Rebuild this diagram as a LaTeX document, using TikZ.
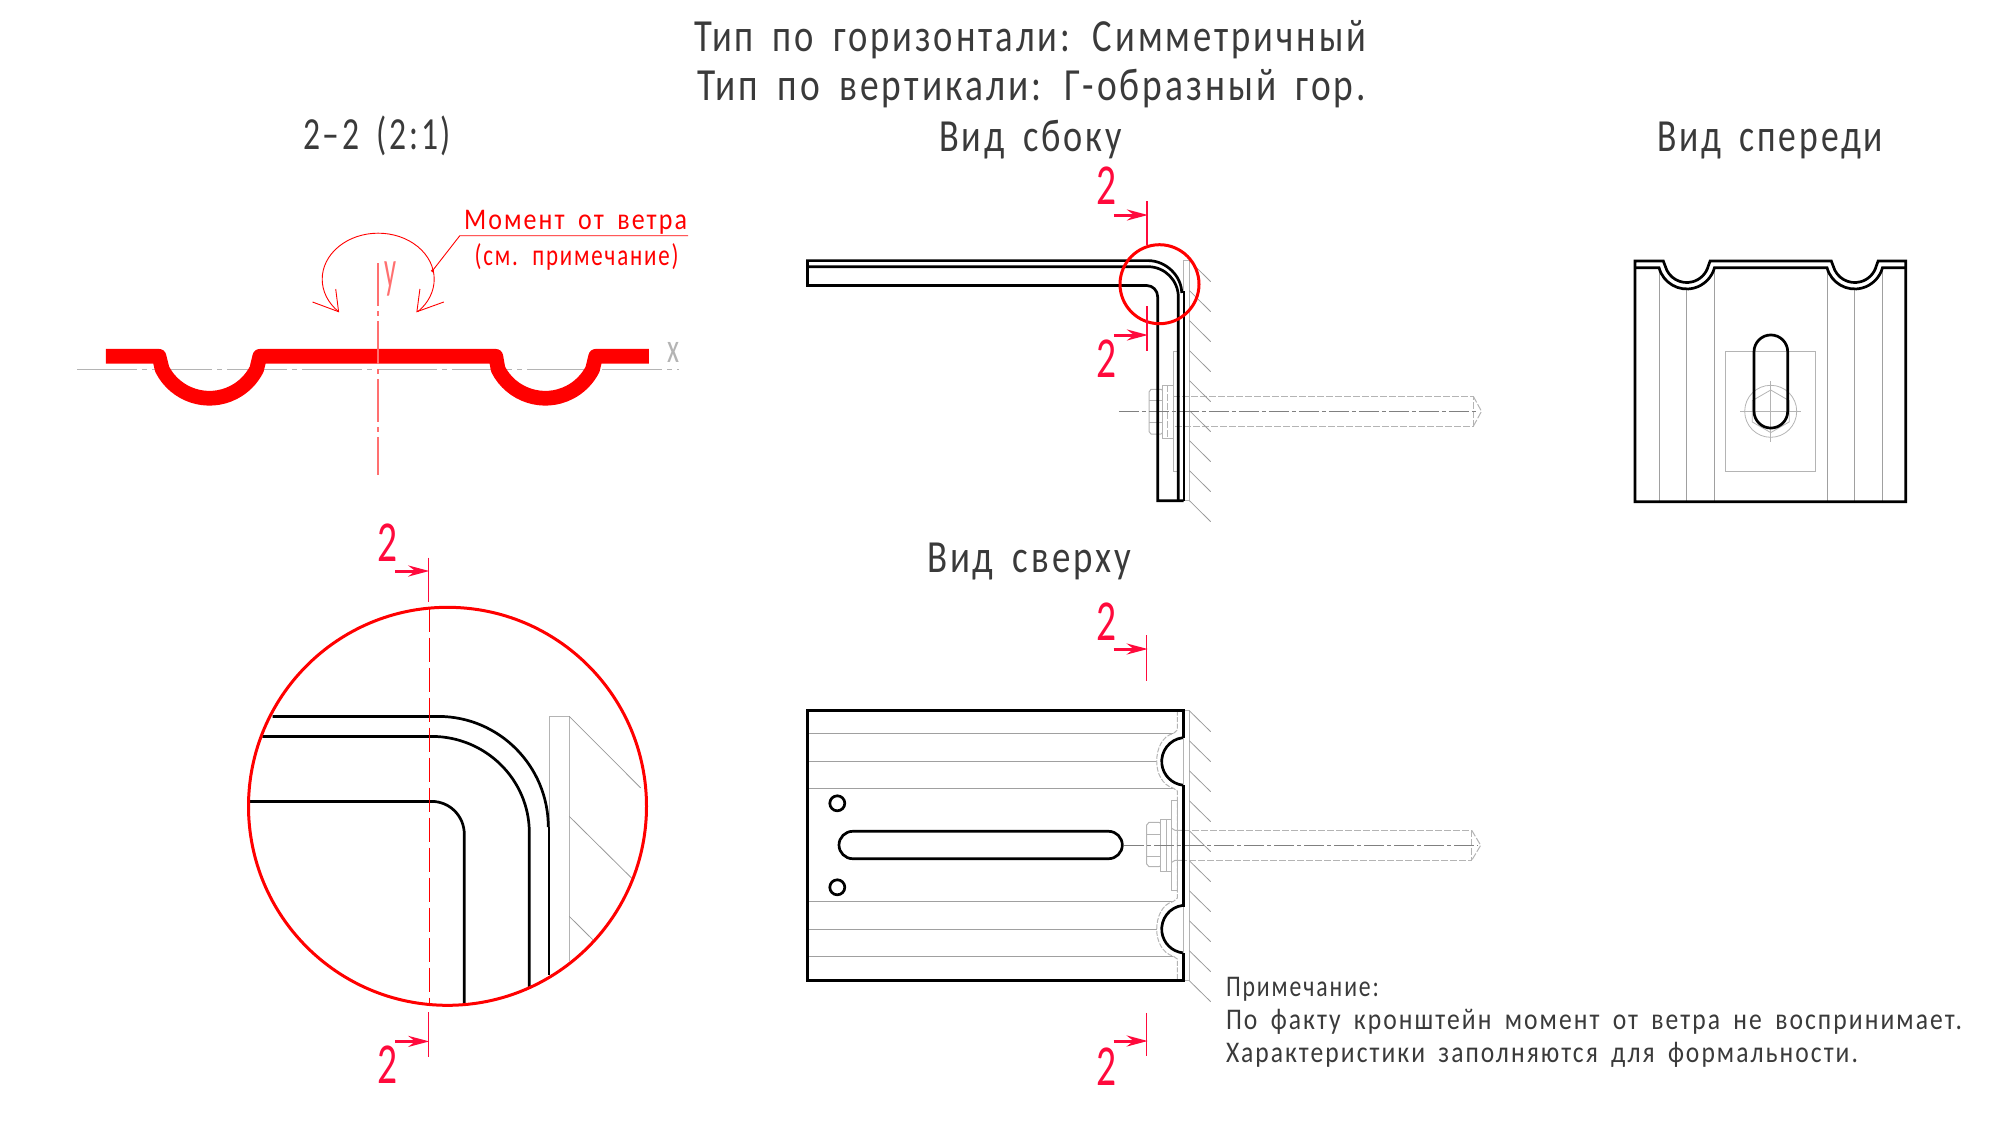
\documentclass[tikz,border=0pt]{standalone}
\usepackage{fontspec}
\usepackage{graphicx}
\usetikzlibrary{arrows.meta}
\setmainfont[LetterSpace=8,WordSpace=1.7]{Carlito}
\definecolor{ink}{HTML}{3A3A3A}
\definecolor{lgrey}{HTML}{B4B4B4}
\definecolor{mgrey}{HTML}{A0A0A0}
\definecolor{hgrey}{HTML}{9A9A9A}
\definecolor{axgrey}{HTML}{808080}
\definecolor{crim}{HTML}{FF0A3C}
\definecolor{ax}{HTML}{FF7070}
\tikzset{
  txt/.style={anchor=base west,inner sep=0pt,outer sep=0pt},
  bigt/.style={txt,text=ink,font=\fontsize{46}{50}\selectfont},
  note/.style={txt,text=ink,font=\fontsize{30}{34}\selectfont},
  rednote/.style={txt,text=red,font=\fontsize{30}{34}\selectfont},
  num/.style={txt,text=crim,font=\fontsize{58}{60}\selectfont},
  blk/.style={draw=black,line width=2.7pt,line join=miter},
  thinblk/.style={draw=black,line width=1.8pt},
  gr/.style={draw=lgrey,line width=1pt},
  grd/.style={draw=lgrey,line width=1pt,dash pattern=on 7pt off 2pt},
  rib/.style={draw=mgrey,line width=1pt},
  hatchline/.style={draw=hgrey,line width=.8pt},
  axline/.style={draw=axgrey,line width=1pt,dash pattern=on 20pt off 3pt on 4pt off 3pt},
  secline/.style={draw=crim,line width=1.2pt},
  secarrow/.style={draw=crim,line width=3pt,-{Stealth[length=21pt,width=11pt,inset=7pt]}},
  redring/.style={draw=red,line width=3pt},
  moment/.style={draw=red,line width=.9pt},
}
\newcommand\secmark[6]{%
  \draw[secline] (#2,#3) -- (#2,#4);
  \draw[secarrow] (#2-33,#5) -- (#2+1,#5);
  \node[num] (#1) at (#2-50.5,#6) {\resizebox{20pt}{\height}{2}};
}
\newcommand\fit[2]{\resizebox{#1pt}{\height}{#2}}
\begin{document}
\begin{tikzpicture}[x=1pt,y=-1pt]
\useasboundingbox (0,0) rectangle (2000,1125);
% ---------- titles
\node[bigt] (t1) at (694,51) {\fit{672}{Тип по горизонтали: Симметричный}};
\node[bigt] (t2) at (697,100.8) {\fit{669}{Тип по вертикали: Г-образный гор.}};
\node[bigt] (t3) at (303,149.3) {\fit{148}{2–2 (2:1)}};
\node[bigt] (t4) at (939,151.8) {\fit{183}{Вид сбоку}};
\node[bigt] (t5) at (1657,151.8) {\fit{226}{Вид спереди}};
\node[bigt] (t6) at (927,572.7) {\fit{204}{Вид сверху}};
% ---------- note
\node[note] (n1) at (1226,996) {\fit{153}{Примечание:}};
\node[note] (n2) at (1226,1029) {\fit{736}{По факту кронштейн момент от ветра не воспринимает.}};
\node[note] (n3) at (1226,1062.5) {\fit{632}{Характеристики заполняются для формальности.}};
% ---------- section 2-2
\draw[draw=lgrey,line width=1.4pt,dash pattern=on 60pt off 5pt on 5pt off 5pt] (77,369.3) -- (678.7,369.3);
\draw[draw=red,line width=14.7pt,line join=round]
  (105.9,356.3) -- (159,356.3) -- (162.2,369.3) arc[start angle=153,end angle=27,radius=53]
  -- (259.8,356.3) -- (495.8,356.3) -- (498.1,369.3) arc[start angle=153,end angle=27,radius=53]
  -- (595.7,356.3) -- (648.8,356.3);
\draw[draw=ax,line width=2.6pt,dash pattern=on 43pt off 5pt on 5pt off 5pt] (377.8,263.3) -- (377.8,475);
\node[txt,text=ax,font=\fontsize{54}{56}\selectfont] (ly) at (384,287) {\fit{12}{y}};
\node[txt,text=lgrey,font=\fontsize{42}{44}\selectfont] (lx) at (667,362) {\fit{12}{x}};
\draw[moment] (338.6,311.7) arc[start angle=135,end angle=405,x radius=56,y radius=46];
\coordinate (tipl) at (338.6,311.7);
\coordinate (tipr) at (416.9,311.7);
\draw[moment] (335.7,289) -- (tipl) -- (312.5,302);
\draw[moment] (419.9,289) -- (tipr) -- (443.8,302);
\coordinate (dot) at (432.5,270.7);
\fill[red] (dot) circle (1.6);
\draw[moment] (dot) -- (459.8,235.7) -- (688,235.7);
\node[rednote] (m1) at (464,229.3) {\fit{223}{Момент от ветра}};
\node[rednote] (m2) at (474.6,265) {\fit{204}{(см. примечание)}};
% ---------- side view
\draw[gr] (1183.6,260.4) rectangle (1189.5,500.7);
\draw[gr] (1173.4,351.3) rectangle (1177.8,471.7);
\draw[gr] (1162,385) rectangle (1173.4,438.3);
\draw[grd] (1167.7,385) -- (1167.7,438.3);
\draw[gr] (1162,390) -- (1161,389.3) -- (1151,389.3) -- (1149,392) -- (1149,431.5) -- (1151,434) -- (1161,434) -- (1162,433);
\draw[gr] (1149,400.7) -- (1162,400.7) (1149,422.2) -- (1162,422.2);
\draw[grd] (1173.4,396.3) -- (1473.3,396.3) -- (1473.3,426.3) -- (1173.4,426.3);
\draw[grd] (1473.3,396.3) -- (1481.5,411.3) -- (1473.3,426.3);
\foreach \e in {281.7,311.7,341.7,371.7,401.7,431.7,461.7,491.7,521.7}
  \draw[hatchline] (1189.5,\e-21) -- (1210.7,\e);
\draw[axline] (1118.8,411.3) -- (1478,411.3);
\draw[blk] (1148,260.6) -- (807.5,260.6) -- (807.5,285.5) -- (1146.7,285.5)
  .. controls (1152.8,285.5) and (1157.7,290.5) .. (1157.7,297) -- (1157.7,500.7) -- (1183.5,500.7);
\draw[blk] (1148,260.6) .. controls (1166,260.6) and (1181.7,276) .. (1181.7,293);
\draw[blk] (807.5,266.7) -- (1148,266.7) .. controls (1165,266.7) and (1178.3,280.5) .. (1178.3,297) -- (1178.3,500.7);
\draw[thinblk] (1183.7,291) -- (1183.7,500.7);
\draw[redring] (1159.5,284.2) circle (39.5);
\secmark{s1}{1146.9}{201}{245}{215}{204.3}
\secmark{s2}{1146.9}{306}{350.7}{335}{377.3}
% ---------- front view
\foreach \x in {1659.3,1714.3,1827.7,1882.3} \draw[rib] (\x,267.7) -- (\x,501.7);
\foreach \x in {1686.3,1854.3} \draw[rib] (\x,288.7) -- (\x,501.7);
\draw[gr] (1725.3,351.3) rectangle (1815.7,471.3);
\coordinate (fb) at (1770.7,411.3);
\draw[gr,line width=.8pt] (fb) circle (26);
\draw[gr,line width=.8pt] (fb) +(90:21.3) -- +(150:21.3) -- +(210:21.3) -- +(270:21.3) -- +(330:21.3) -- +(30:21.3) -- cycle;
\draw[gr,line width=.8pt] (1740,411.3) -- (1801,411.3) (1770.7,381) -- (1770.7,441.7);
\draw[blk] (1635,261) -- (1663.3,261) -- (1665.2,266) arc[start angle=165,end angle=15,radius=22.3]
  -- (1710.1,261) -- (1831.3,261) -- (1833.2,266) arc[start angle=165,end angle=15,radius=22.3]
  -- (1878.1,261) -- (1905.7,261) -- (1905.7,501.7) -- (1635,501.7) -- cycle;
\draw[blk] (1635,267.7) -- (1659,267.7) arc[start angle=165,end angle=15,radius=28.7]
  -- (1827,267.7) arc[start angle=165,end angle=15,radius=28.7] -- (1905.7,267.7);
\draw[blk] (1754,351.8) arc[start angle=180,end angle=360,radius=16.85] -- (1787.7,411.2)
  arc[start angle=0,end angle=180,radius=16.85] -- cycle;
% ---------- top view
\foreach \y/\x in {733.3/1173,761.3/1156.7,788.3/1173,901.3/1173,929.3/1156.7,956.3/1173}
  \draw[rib] (807.3,\y) -- (\x,\y);
\draw[gr] (1183.3,710.7) rectangle (1189.3,980.3);
\draw[gr] (1171.5,800) rectangle (1177.7,890.7);
\draw[gr] (1160,819.3) rectangle (1171.3,871.3);
\draw[gr] (1160,823) -- (1159,822.3) -- (1149,822.3) -- (1146.7,825) -- (1146.7,864) -- (1149,866.7) -- (1159,866.7) -- (1160,866);
\draw[gr] (1146.7,834.3) -- (1160,834.3) (1146.7,856) -- (1160,856);
\draw[gr] (1166,819.3) -- (1166,871.3);
\draw[gr] (1171.7,828.3) -- (1175,830.3) -- (1183.3,830.3) (1171.7,862.3) -- (1175,860.3) -- (1183.3,860.3);
\draw[grd] (1183.3,830.3) -- (1471.7,830.3) -- (1471.7,860.3) -- (1183.3,860.3);
\draw[grd] (1471.7,830.3) -- (1480.7,845.3) -- (1471.7,860.3);
\draw[grd,dash pattern=on 5pt off 1.5pt] (1177.3,710.7) -- (1177.3,730) -- (1173.5,733.4)
  .. controls (1162,736) and (1156.7,749) .. (1156.7,761.3)
  .. controls (1156.7,773) and (1162,785) .. (1173.5,788.3) -- (1177.3,791) -- (1177.3,898)
  -- (1173.5,901.4) .. controls (1162,904) and (1156.7,917) .. (1156.7,929.3)
  .. controls (1156.7,941) and (1162,953) .. (1173.5,956.3) -- (1177.3,959) -- (1177.3,980.3);
\foreach \e in {731.7,761.7,791.7,821.7,851.7,881.7,911.7,941.7,971.7,1001.7}
  \draw[hatchline] (1189.3,\e-21) -- (1210.7,\e);
\draw[axline] (1124.3,845.3) -- (1478,845.3);
\draw[blk] (1183.3,737.7) -- (1183.3,710.7) -- (807.3,710.7) -- (807.3,980.3) -- (1183.3,980.3) -- (1183.3,953);
\draw[blk] (1182.7,737.7) arc[start angle=263,end angle=97,radius=23.9];
\draw[blk] (1183.3,785) -- (1183.3,906.7);
\draw[blk] (1182.7,905.4) arc[start angle=263,end angle=97,radius=23.9];
\draw[blk] (852.7,831.3) -- (1108.6,831.3) arc[start angle=270,end angle=450,radius=13.7] -- (852.7,858.7)
  arc[start angle=90,end angle=270,radius=13.7] -- cycle;
\draw[blk] (837.3,803.3) circle (7.5);
\draw[blk] (837.3,887.3) circle (7.5);
\secmark{s3}{1146.7}{635}{681}{649}{640}
\secmark{s4}{1146.7}{1012.8}{1056}{1041}{1085}
% ---------- detail circle
\draw[gr] (549.3,975) -- (549.3,716.4) -- (569.3,716.4) -- (569.3,961);
\draw[hatchline] (569.3,716.4) -- (640.7,787.9);
\draw[hatchline] (569.3,816.4) -- (631.7,878.2);
\draw[hatchline] (569.3,916.4) -- (592.7,939.6);
\draw[blk] (272.7,716.4) -- (438.3,716.4) .. controls (499,716.4) and (548.3,766) .. (548.3,827);
\draw[thinblk] (548.8,827) -- (548.8,975.4);
\draw[blk] (262.3,736.4) -- (431.7,736.4) .. controls (485.5,736.4) and (529.3,779.5) .. (529.3,832.5) -- (529.3,987);
\draw[blk] (249.3,801.4) -- (431.7,801.4) .. controls (449.7,801.4) and (464.3,816) .. (464.3,834.3) -- (464.3,1004);
\draw[draw=red,line width=1pt,dash pattern=on 24pt off 6pt] (429.3,607.5) -- (429.3,1005);
\draw[redring] (447.5,806.3) circle (199);
\secmark{s5}{428.3}{557.5}{602}{571}{561}
\secmark{s6}{428.3}{1012}{1056.8}{1041.4}{1083}
\end{tikzpicture}
\end{document}
